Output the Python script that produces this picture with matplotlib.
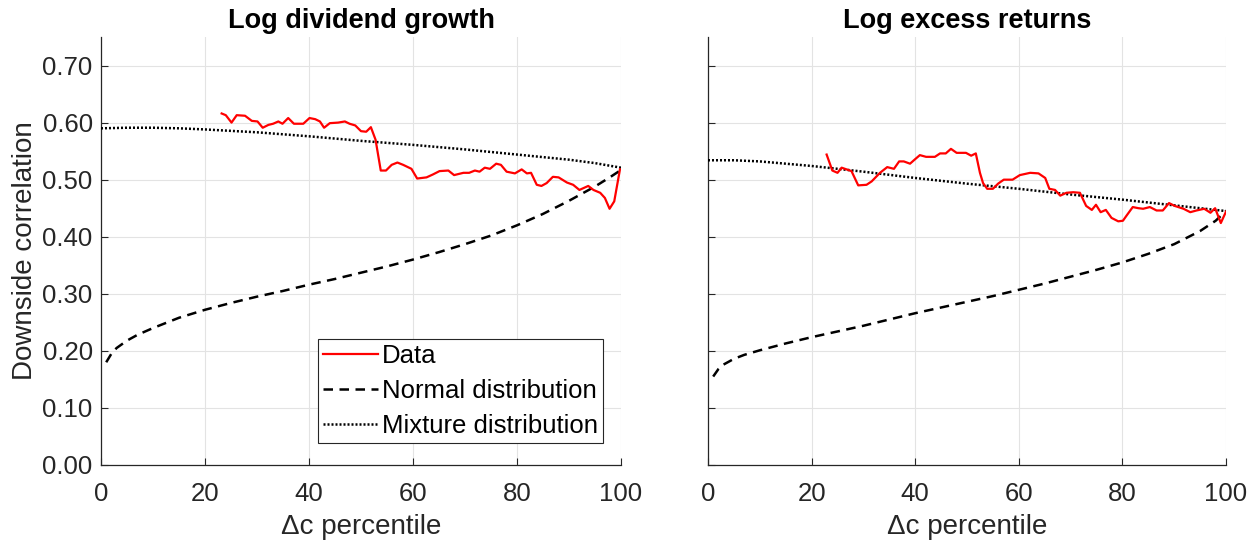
import matplotlib
matplotlib.use("Agg")
import matplotlib.pyplot as plt
import numpy as np

plt.rcParams['font.family'] = ['Liberation Sans', 'DejaVu Sans']

# ---------------- Data ----------------
# Left panel: Log dividend growth
div_data_x = [23.2, 24.0, 25.1, 26.1, 27.7, 29.0, 30.1, 31.1, 32.2, 33.1, 34.1, 34.9, 36.0, 37.1,
              38.9, 40.1, 41.2, 42.1, 42.9, 44.0, 45.6, 46.9, 47.8, 48.9, 50.0, 51.0, 51.9, 52.8,
              53.8, 54.8, 55.9, 57.0, 58.1, 59.7, 60.8, 62.6, 63.8, 65.1, 66.8, 67.9, 69.7, 70.8,
              71.9, 72.8, 73.8, 74.8, 76.0, 76.9, 78.0, 79.6, 80.9, 81.9, 82.7, 83.8, 84.7, 85.7,
              86.9, 88.0, 89.6, 90.8, 92.0, 93.7, 94.7, 96.0, 96.9, 97.8, 98.7, 99.8]
div_data_y = [0.616, 0.613, 0.600, 0.613, 0.612, 0.603, 0.602, 0.591, 0.596, 0.598, 0.602, 0.598,
              0.608, 0.598, 0.598, 0.608, 0.606, 0.602, 0.591, 0.599, 0.600, 0.602, 0.598, 0.595,
              0.585, 0.584, 0.592, 0.570, 0.516, 0.516, 0.526, 0.530, 0.526, 0.519, 0.502, 0.504,
              0.509, 0.515, 0.516, 0.508, 0.512, 0.512, 0.516, 0.514, 0.521, 0.519, 0.528, 0.526,
              0.514, 0.511, 0.518, 0.511, 0.512, 0.491, 0.489, 0.494, 0.505, 0.504, 0.495, 0.491,
              0.482, 0.489, 0.482, 0.477, 0.468, 0.449, 0.462, 0.518]
div_normal_x = [1, 2, 3, 5, 7, 10, 15, 20, 25, 30, 35, 40, 45, 50, 55, 60, 65, 70, 75, 80, 85, 90, 95, 98, 100]
div_normal_y = [0.180, 0.195, 0.205, 0.218, 0.228, 0.240, 0.258, 0.272, 0.284, 0.295, 0.305, 0.316,
                0.326, 0.337, 0.348, 0.360, 0.373, 0.387, 0.402, 0.420, 0.440, 0.463, 0.488, 0.505, 0.517]
div_mix_x = [0, 5, 10, 15, 20, 30, 40, 50, 60, 70, 80, 90, 95, 100]
div_mix_y = [0.590, 0.591, 0.591, 0.590, 0.588, 0.583, 0.576, 0.568, 0.561, 0.553, 0.544, 0.535, 0.529, 0.521]

# Right panel: Log excess returns
ret_data_x = [22.9, 24.0, 25.0, 25.8, 27.7, 29.0, 30.6, 31.6, 33.2, 34.6, 35.9, 36.9, 37.8, 39.0,
              40.0, 40.9, 42.1, 43.8, 44.8, 45.9, 46.9, 48.0, 49.8, 50.8, 51.7, 52.5, 53.1, 53.9,
              55.0, 56.0, 57.1, 58.8, 60.2, 62.2, 63.8, 65.1, 65.9, 67.0, 68.0, 69.2, 70.5, 71.8,
              73.0, 74.1, 74.9, 75.8, 76.8, 77.9, 79.2, 80.1, 80.8, 82.0, 83.1, 84.0, 85.3, 86.6,
              87.8, 89.0, 90.1, 91.8, 93.1, 94.3, 95.8, 97.0, 97.9, 99.0, 100.0]
ret_data_y = [0.544, 0.516, 0.512, 0.521, 0.515, 0.490, 0.491, 0.497, 0.512, 0.522, 0.519, 0.532,
              0.532, 0.528, 0.536, 0.543, 0.540, 0.540, 0.546, 0.546, 0.554, 0.547, 0.547, 0.542,
              0.546, 0.512, 0.494, 0.484, 0.484, 0.493, 0.500, 0.500, 0.508, 0.512, 0.511, 0.503,
              0.484, 0.482, 0.472, 0.477, 0.478, 0.477, 0.454, 0.447, 0.456, 0.443, 0.447, 0.433,
              0.427, 0.428, 0.437, 0.452, 0.450, 0.449, 0.452, 0.446, 0.446, 0.459, 0.454, 0.449,
              0.443, 0.446, 0.449, 0.442, 0.450, 0.424, 0.444]
ret_normal_x = [1, 2, 3, 5, 7, 10, 15, 20, 25, 30, 35, 40, 45, 50, 55, 60, 65, 70, 75, 80, 85, 90, 95, 98, 100]
ret_normal_y = [0.155, 0.168, 0.176, 0.186, 0.193, 0.201, 0.213, 0.224, 0.234, 0.244, 0.255, 0.266,
                0.276, 0.286, 0.296, 0.307, 0.318, 0.330, 0.342, 0.355, 0.370, 0.387, 0.410, 0.428, 0.445]
ret_mix_x = [0, 5, 10, 15, 20, 30, 40, 50, 60, 70, 80, 90, 95, 100]
ret_mix_y = [0.534, 0.534, 0.532, 0.528, 0.524, 0.514, 0.503, 0.493, 0.484, 0.474, 0.465, 0.455, 0.450, 0.445]

titles = ["Log dividend growth", "Log excess returns"]
xlabel = "\u0394c percentile"
ylabel = "Downside correlation"
yticks = [0.0, 0.1, 0.2, 0.3, 0.4, 0.5, 0.6, 0.7]
xticks = [0, 20, 40, 60, 80, 100]

# ---------------- Plot ----------------
fig = plt.figure(figsize=(12.6, 5.45), dpi=100)
ax1 = fig.add_axes([101/1260, 80/545, 520/1260, 428/545])
ax2 = fig.add_axes([708/1260, 80/545, 518/1260, 428/545])

panels = [
    (ax1, div_data_x, div_data_y, div_normal_x, div_normal_y, div_mix_x, div_mix_y),
    (ax2, ret_data_x, ret_data_y, ret_normal_x, ret_normal_y, ret_mix_x, ret_mix_y),
]

tick_fs = 18.5
label_fs = 20
title_fs = 19.5
txt = '#262626'
for i, (ax, dx, dy, nx, ny, mx, my) in enumerate(panels):
    ax.plot(dx, dy, color='#ff0000', lw=1.6, label='Data', zorder=4)
    ax.plot(nx, ny, color='black', lw=1.8, ls=(0, (3.8, 2.6)), label='Normal distribution', zorder=3)
    ax.plot(mx, my, color='black', lw=1.8, ls=(0, (0.8, 0.8)), label='Mixture distribution', zorder=3)
    ax.set_xlim(0, 100)
    ax.set_ylim(0, 0.75)
    ax.set_xticks(xticks)
    ax.set_yticks(yticks)
    ax.grid(True, color='#e3e3e3', lw=0.8)
    ax.set_axisbelow(True)
    for s in ['top', 'right']:
        ax.spines[s].set_visible(False)
    for s in ['left', 'bottom']:
        ax.spines[s].set_color(txt)
        ax.spines[s].set_linewidth(0.9)
    ax.tick_params(direction='in', length=5, width=0.8, color=txt,
                   labelsize=tick_fs, labelcolor=txt)
    ax.tick_params(axis='x', pad=12)
    ax.tick_params(axis='y', pad=6)
    ax.set_title(titles[i], fontsize=title_fs, fontweight='bold', pad=6.5)
    ax.set_xlabel(xlabel, fontsize=label_fs, color=txt, labelpad=6)
    if i == 0:
        ax.set_yticklabels([f"{v:.2f}" for v in yticks])
        ax.set_ylabel(ylabel, fontsize=label_fs, color=txt, labelpad=3)
    else:
        ax.set_yticklabels([])

leg = ax1.legend(loc='lower right', bbox_to_anchor=(0.965, 0.051), fontsize=tick_fs,
                 frameon=True, fancybox=False, edgecolor=txt, framealpha=1,
                 handlelength=2.14, handletextpad=0.15, borderpad=0.2, labelspacing=0.42,
                 borderaxespad=0)
leg.get_frame().set_linewidth(0.8)

fig.savefig('out.png', dpi=100)
